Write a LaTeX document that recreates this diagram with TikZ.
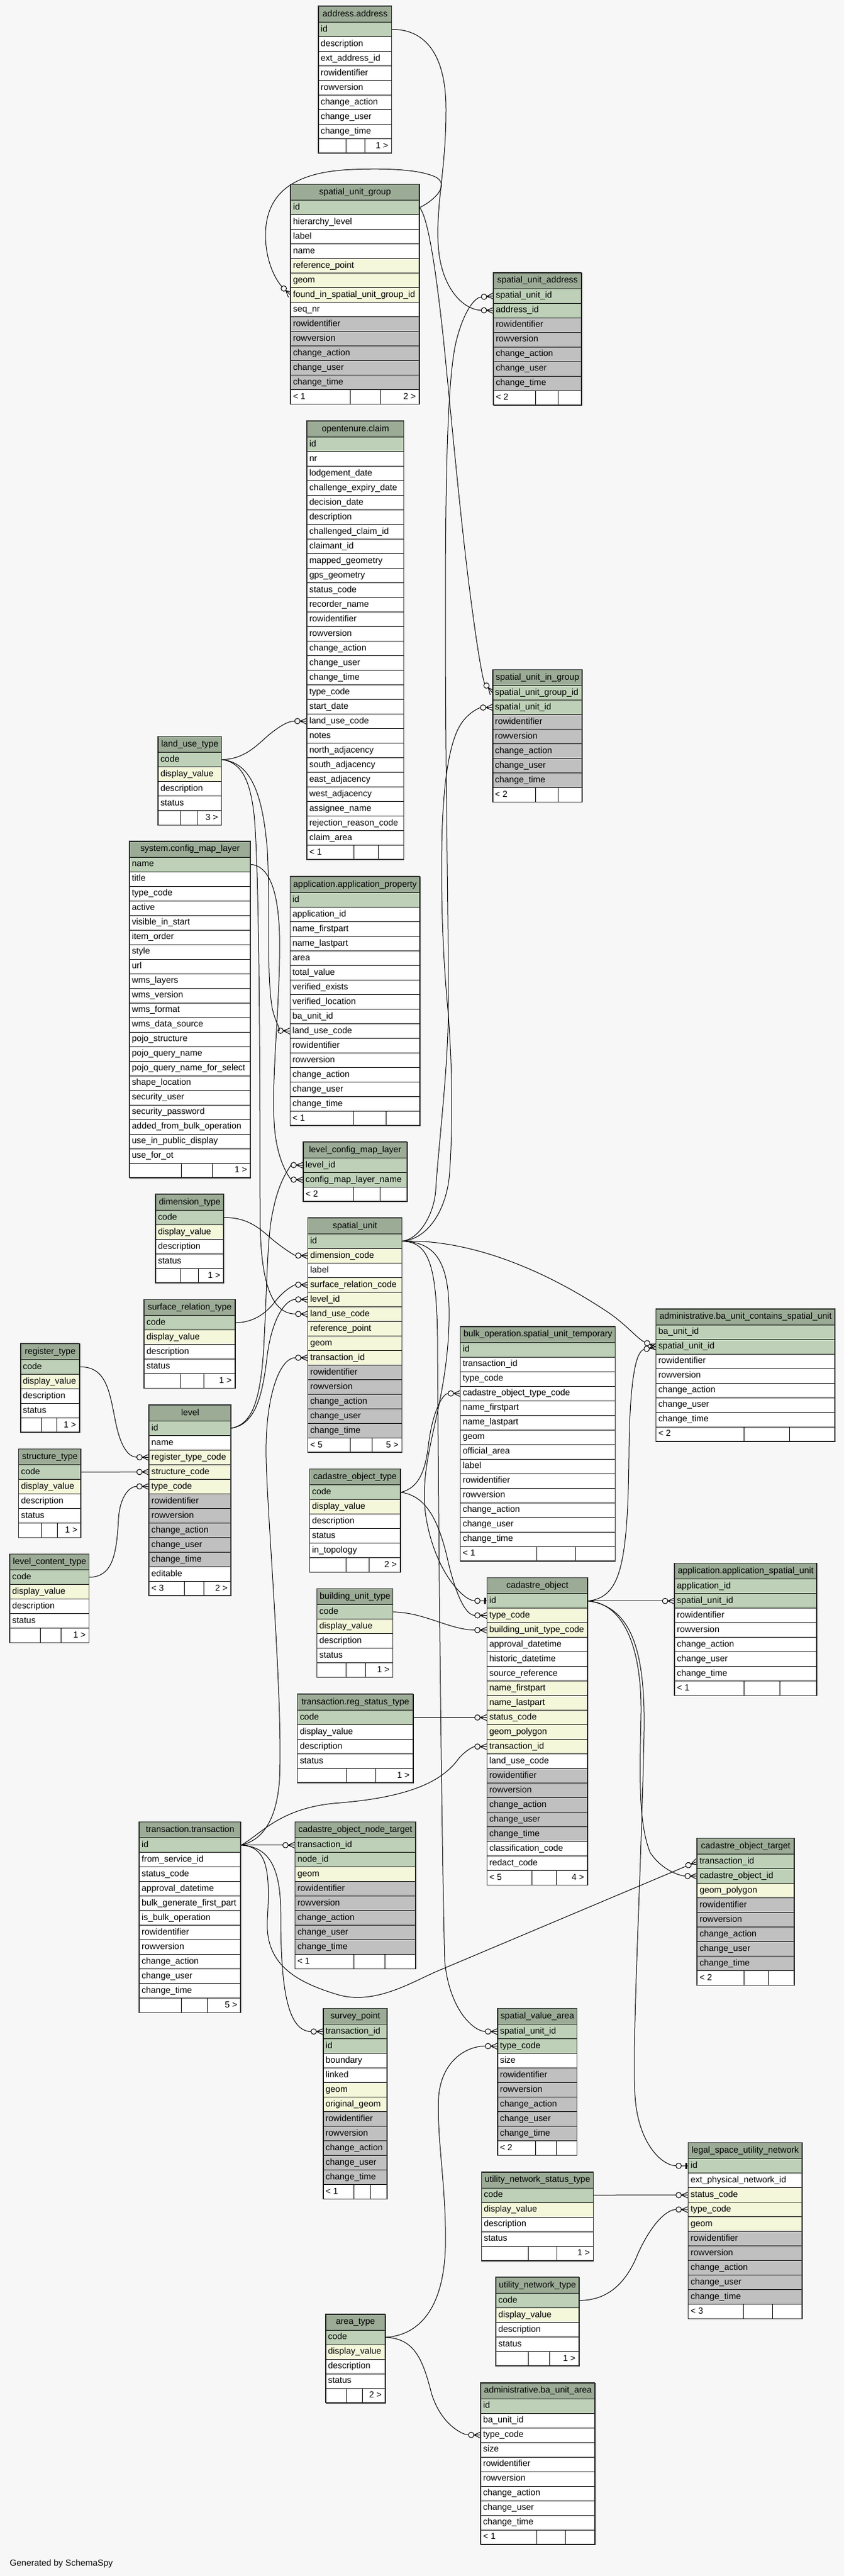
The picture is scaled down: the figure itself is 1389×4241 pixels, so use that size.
\documentclass[tikz,border=0pt]{standalone}
\usepackage{fontspec}
\setmainfont{Liberation Sans}
\usetikzlibrary{arrows.meta}
\definecolor{bgc}{HTML}{F7F7F7}
\definecolor{hdrc}{HTML}{9BAB96}
\definecolor{pk}{HTML}{BED1B8}
\definecolor{yl}{HTML}{F4F7DA}
\definecolor{gr}{HTML}{C0C0C0}
\definecolor{wh}{HTML}{FFFFFF}
\pgfdeclarelayer{bg}
\pgfdeclarelayer{edges}
\pgfsetlayers{bg,edges,main}
\pgfdeclarearrow{
  name=CrowO,
  setup code={
    \pgfarrowssettipend{0pt}
    \pgfarrowssetlineend{-20pt}
    \pgfarrowssetbackend{-20pt}
    \pgfarrowshullpoint{0pt}{5pt}
    \pgfarrowshullpoint{0pt}{-5pt}
    \pgfarrowshullpoint{-20pt}{0pt}
  },
  drawing code={
    \pgfsetdash{}{0pt}
    \pgfpathcircle{\pgfqpoint{-15.5pt}{0pt}}{4.5pt}
    \pgfpathmoveto{\pgfqpoint{-11pt}{0pt}}
    \pgfpathlineto{\pgfqpoint{0pt}{0pt}}
    \pgfpathmoveto{\pgfqpoint{-11pt}{0pt}}
    \pgfpathlineto{\pgfqpoint{0pt}{5pt}}
    \pgfpathmoveto{\pgfqpoint{-11pt}{0pt}}
    \pgfpathlineto{\pgfqpoint{0pt}{-5pt}}
    \pgfusepathqstroke
  }
}
\pgfdeclarearrow{
  name=OneO,
  setup code={
    \pgfarrowssettipend{0pt}
    \pgfarrowssetlineend{-20pt}
    \pgfarrowssetbackend{-20pt}
    \pgfarrowshullpoint{0pt}{5pt}
    \pgfarrowshullpoint{0pt}{-5pt}
    \pgfarrowshullpoint{-20pt}{0pt}
  },
  drawing code={
    \pgfsetdash{}{0pt}
    \pgfpathcircle{\pgfqpoint{-15.5pt}{0pt}}{4.5pt}
    \pgfpathmoveto{\pgfqpoint{-11pt}{0pt}}
    \pgfpathlineto{\pgfqpoint{0pt}{0pt}}
    \pgfusepathqstroke
    \pgfpathrectangle{\pgfqpoint{-4.5pt}{-5pt}}{\pgfqpoint{3pt}{10pt}}
    \pgfusepathqfill
  }
}
\newcommand\tabfont{\fontsize{14.5}{17}\selectfont}
\tikzset{
  hdr/.style={draw=black, fill=hdrc, line width=0.8bp, minimum height=26bp, inner sep=0pt},
  cell/.style={draw=black, line width=0.8bp, minimum height=24bp, inner sep=0pt},
  txt/.style={inner xsep=4bp, inner ysep=0pt, font=\tabfont, text height=10.5bp, text depth=3bp},
  outer/.style={draw=black!80, line width=1.3bp},
  fk/.style={draw=black, line width=1bp, -{CrowO}},
  one/.style={draw=black, line width=1bp, -{OneO}}
}
\def\tblfootparse#1#2/#3\relax{%
  \node[txt, anchor=west] at (#1-f.west) {#2};
  \node[txt, anchor=east, inner xsep=6bp] at (#1-f.east) {#3};}
\newcommand\tbl[9]{%
  \node[hdr, minimum width=#4bp, anchor=north west] (#1) at (#2,#3) {};
  \node[txt, inner xsep=0pt] at (#1.center) {#5};
  \foreach \rc/\rt [count=\ri] in {#6}{%
    \pgfmathsetmacro\yy{#3+26+(\ri-1)*24}%
    \node[cell, fill=\rc, minimum width=#4bp, anchor=north west] (#1-\ri) at (#2,\yy) {};
    \node[txt, anchor=west] at (#1-\ri.west) {\rt};
    \xdef\tblN{\ri}%
  }%
  \pgfmathsetmacro\yf{#3+26+\tblN*24}%
  \node[cell, fill=white, minimum width=#4bp, anchor=north west] (#1-f) at (#2,\yf) {};
  \draw[cell] (#7,\yf) -- ++(0,24) (#8,\yf) -- ++(0,24);
  \tblfootparse{#1}#9\relax
  \pgfmathsetmacro\xr{#2+#4}%
  \pgfmathsetmacro\yb{\yf+24}%
  \draw[outer] (#2,#3) rectangle (\xr,\yb);
}
\begin{document}
\catcode`\_=12
\begin{tikzpicture}[x=1bp,y=-1bp]
\begin{pgfonlayer}{bg}
\fill[bgc] (0,0) rectangle (1389,4241);
\end{pgfonlayer}
\useasboundingbox (0,0) rectangle (1389,4241);

\tbl{addr}{523.7}{10}{120.5}{address.address}{pk/id,wh/description,wh/ext_address_id,wh/rowidentifier,wh/rowversion,wh/change_action,wh/change_user,wh/change_time}{569.2}{600}{/1 >}

\tbl{sug}{478.1}{303.4}{211.6}{spatial_unit_group}{pk/id,wh/hierarchy_level,wh/label,wh/name,yl/reference_point,yl/geom,yl/found_in_spatial_unit_group_id,wh/seq_nr,gr/rowidentifier,gr/rowversion,gr/change_action,gr/change_user,gr/change_time}{575.9}{626.8}{< 1/2 >}

\tbl{sua}{811.9}{448.8}{144.6}{spatial_unit_address}{pk/spatial_unit_id,pk/address_id,gr/rowidentifier,gr/rowversion,gr/change_action,gr/change_user,gr/change_time}{881.1}{918.6}{< 2/}

\tbl{claim}{504.9}{693}{159.4}{opentenure.claim}{pk/id,wh/nr,wh/lodgement_date,wh/challenge_expiry_date,wh/decision_date,wh/description,wh/challenged_claim_id,wh/claimant_id,wh/mapped_geometry,wh/gps_geometry,wh/status_code,wh/recorder_name,wh/rowidentifier,wh/rowversion,wh/change_action,wh/change_user,wh/change_time,wh/type_code,wh/start_date,wh/land_use_code,wh/notes,wh/north_adjacency,wh/south_adjacency,wh/east_adjacency,wh/west_adjacency,wh/assignee_name,wh/rejection_reason_code,wh/claim_area}{582.6}{622.3}{< 1/}

\tbl{lut}{259.8}{1212.2}{104.5}{land_use_type}{pk/code,yl/display_value,wh/description,wh/status}{296.9}{324.1}{/3 >}

\tbl{suig}{810.5}{1102.2}{147.4}{spatial_unit_in_group}{pk/spatial_unit_group_id,pk/spatial_unit_id,gr/rowidentifier,gr/rowversion,gr/change_action,gr/change_user,gr/change_time}{881.1}{918.6}{< 2/}

\tbl{cml}{213}{1384.8}{199}{system.config_map_layer}{pk/name,wh/title,wh/type_code,wh/active,wh/visible_in_start,wh/item_order,wh/style,wh/url,wh/wms_layers,wh/wms_version,wh/wms_format,wh/wms_data_source,wh/pojo_structure,wh/pojo_query_name,wh/pojo_query_name_for_select,wh/shape_location,wh/security_user,wh/security_password,wh/added_from_bulk_operation,wh/use_in_public_display,wh/use_for_ot}{298.7}{349.1}{/1 >}

\tbl{ap}{477.2}{1443}{213.4}{application.application_property}{pk/id,wh/application_id,wh/name_firstpart,wh/name_lastpart,wh/area,wh/total_value,wh/verified_exists,wh/verified_location,wh/ba_unit_id,wh/land_use_code,wh/rowidentifier,wh/rowversion,wh/change_action,wh/change_user,wh/change_time}{581.3}{635.7}{< 1/}

\tbl{lcml}{498.7}{1880}{170.9}{level_config_map_layer}{pk/level_id,pk/config_map_layer_name}{581.3}{625.4}{< 2/}

\tbl{dim}{255.8}{1966.1}{112.1}{dimension_type}{pk/code,yl/display_value,wh/description,wh/status}{296.9}{326.8}{/1 >}

\tbl{su}{506.3}{2005}{154.9}{spatial_unit}{pk/id,yl/dimension_code,wh/label,yl/surface_relation_code,yl/level_id,yl/land_use_code,yl/reference_point,yl/geom,yl/transaction_id,gr/rowidentifier,gr/rowversion,gr/change_action,gr/change_user,gr/change_time}{575.9}{612}{< 5/5 >}

\tbl{srt}{237}{2139.4}{149.6}{surface_relation_type}{pk/code,yl/display_value,wh/description,wh/status}{296.9}{335.7}{/1 >}

\tbl{rt}{33.5}{2211.9}{97.3}{register_type}{pk/code,yl/display_value,wh/description,wh/status}{67.9}{93.3}{/1 >}

\tbl{lvl}{245}{2312.9}{135}{level}{pk/id,wh/name,yl/register_type_code,yl/structure_code,yl/type_code,gr/rowidentifier,gr/rowversion,gr/change_action,gr/change_user,gr/change_time,wh/editable}{303.6}{335.7}{< 3/2 >}

\tbl{st}{30.4}{2385.3}{102.6}{structure_type}{pk/code,yl/display_value,wh/description,wh/status}{67.9}{94.6}{/1 >}

\tbl{lct}{16}{2558.3}{130.4}{level_content_type}{pk/code,yl/display_value,wh/description,wh/status}{66.5}{100}{/1 >}

\tbl{cot}{509.4}{2418.4}{149.1}{cadastre_object_type}{pk/code,yl/display_value,wh/description,wh/status,wh/in_topology}{569.2}{607.6}{/2 >}

\tbl{but}{521.4}{2615.4}{125}{building_unit_type}{pk/code,yl/display_value,wh/description,wh/status}{569.2}{601.3}{/1 >}

\tbl{rst}{489.3}{2788.9}{190.2}{transaction.reg_status_type}{pk/code,wh/display_value,wh/description,wh/status}{570.5}{618.8}{/1 >}

\tbl{bulk}{757.4}{2183.8}{254.9}{bulk_operation.spatial_unit_temporary}{pk/id,wh/transaction_id,wh/type_code,wh/cadastre_object_type_code,wh/name_firstpart,wh/name_lastpart,wh/geom,wh/official_area,wh/label,wh/rowidentifier,wh/rowversion,wh/change_action,wh/change_user,wh/change_time}{882.9}{947.1}{< 1/}

\tbl{bacsu}{1079.3}{2154.8}{294.6}{administrative.ba_unit_contains_spatial_unit}{pk/ba_unit_id,pk/spatial_unit_id,wh/rowidentifier,wh/rowversion,wh/change_action,wh/change_user,wh/change_time}{1224.4}{1299.4}{< 2/}

\tbl{co}{801.2}{2597.3}{165.6}{cadastre_object}{pk/id,yl/type_code,yl/building_unit_type_code,wh/approval_datetime,wh/historic_datetime,wh/source_reference,yl/name_firstpart,yl/name_lastpart,yl/status_code,yl/geom_polygon,yl/transaction_id,wh/land_use_code,gr/rowidentifier,gr/rowversion,gr/change_action,gr/change_user,gr/change_time,wh/classification_code,wh/redact_code}{875.7}{915}{< 5/4 >}

\tbl{asu}{1110}{2573.3}{233.6}{application.application_spatial_unit}{pk/application_id,pk/spatial_unit_id,wh/rowidentifier,wh/rowversion,wh/change_action,wh/change_user,wh/change_time}{1224.4}{1283.3}{< 1/}

\tbl{tr}{229}{2999.3}{167}{transaction.transaction}{pk/id,wh/from_service_id,wh/status_code,wh/approval_datetime,wh/bulk_generate_first_part,wh/is_bulk_operation,wh/rowidentifier,wh/rowversion,wh/change_action,wh/change_user,wh/change_time}{298.7}{341.1}{/5 >}

\tbl{cont}{485.3}{2999.3}{198.2}{cadastre_object_node_target}{pk/transaction_id,pk/node_id,yl/geom,gr/rowidentifier,gr/rowversion,gr/change_action,gr/change_user,gr/change_time}{582.6}{633}{< 1/}

\tbl{sp}{531.7}{3306.3}{105.3}{survey_point}{pk/transaction_id,pk/id,wh/boundary,wh/linked,yl/geom,yl/original_geom,gr/rowidentifier,gr/rowversion,gr/change_action,gr/change_user,gr/change_time}{582.6}{608.9}{< 1/}

\tbl{cotg}{1147.1}{3026.4}{159.4}{cadastre_object_target}{pk/transaction_id,pk/cadastre_object_id,yl/geom_polygon,gr/rowidentifier,gr/rowversion,gr/change_action,gr/change_user,gr/change_time}{1224.4}{1264.6}{< 2/}

\tbl{sva}{818.6}{3306.3}{130.8}{spatial_value_area}{pk/spatial_unit_id,pk/type_code,wh/size,gr/rowidentifier,gr/rowversion,gr/change_action,gr/change_user,gr/change_time}{881.1}{915}{< 2/}

\tbl{at}{535.7}{3809.5}{97.8}{area_type}{pk/code,yl/display_value,wh/description,wh/status}{570.5}{596}{/2 >}

\tbl{unst}{792.2}{3575.6}{184}{utility_network_status_type}{pk/code,yl/display_value,wh/description,wh/status}{869}{916.3}{/1 >}

\tbl{unt}{815.9}{3749}{136.6}{utility_network_type}{pk/code,yl/display_value,wh/description,wh/status}{869}{904.3}{/1 >}

\tbl{bua}{790.9}{3922.5}{187.9}{administrative.ba_unit_area}{pk/id,wh/ba_unit_id,wh/type_code,wh/size,wh/rowidentifier,wh/rowversion,wh/change_action,wh/change_user,wh/change_time}{882.9}{930.6}{< 1/}

\tbl{lsun}{1132.4}{3527.4}{187.1}{legal_space_utility_network}{pk/id,wh/ext_physical_network_id,yl/status_code,yl/type_code,yl/geom,gr/rowidentifier,gr/rowversion,gr/change_action,gr/change_user,gr/change_time}{1223}{1271.3}{< 3/}

\node[txt, anchor=west, inner xsep=0pt] (gen) at (16,4221) {Generated by SchemaSpy};

\begin{pgfonlayer}{edges}
% address -> spatial_unit_address
\draw[fk] (addr-1.east) .. controls (700,48) and (734,90) .. (734,180) .. controls (734,280) and (718,330) .. (721,400) .. controls (724,470) and (760,510) .. (sua-2.west);
% spatial_unit_group self
\draw[fk] (sug-1.east) .. controls (715,330) and (740,305) .. (718,292) .. controls (690,278) and (630,277) .. (580,279) .. controls (480,283) and (436,320) .. (437,390) .. controls (438,440) and (460,468) .. (sug-7.west);
% spatial_unit_group -> spatial_unit_in_group
\draw[fk] (sug-1.east) .. controls (705,358) and (718,450) .. (730,560) .. controls (742,680) and (760,880) .. (778,1010) .. controls (786,1070) and (795,1122) .. (suig-1.west);
% spatial_unit -> spatial_unit_address
\draw[fk] (su-1.east) .. controls (690,2040) and (714,2000) .. (717,1960) .. controls (722,1880) and (738,1760) .. (738,1650) .. controls (738,1500) and (733,1300) .. (733,1000) .. controls (733,750) and (738,620) .. (750,565) .. controls (762,515) and (780,490) .. (sua-1.west);
% spatial_unit -> spatial_unit_in_group
\draw[fk] (su-1.east) .. controls (705,2040) and (736,1990) .. (740,1930) .. controls (746,1840) and (744,1740) .. (736,1650) .. controls (728,1560) and (726,1470) .. (727,1400) .. controls (728,1300) and (738,1220) .. (760,1190) .. controls (772,1172) and (790,1165) .. (suig-2.west);
% land_use_type
\draw[fk] (lut-1.east) .. controls (400,1250) and (420,1230) .. (440,1212) .. controls (460,1195) and (475,1187) .. (claim-20.west);
\draw[fk] (lut-1.east) .. controls (400,1255) and (412,1290) .. (418,1340) .. controls (426,1420) and (428,1700) .. (428,2000) .. controls (428,2120) and (450,2163) .. (su-6.west);
\draw[fk] (lut-1.east) .. controls (410,1255) and (432,1300) .. (440,1400) .. controls (445,1500) and (438,1600) .. (448,1660) .. controls (455,1690) and (465,1697) .. (ap-10.west);
% config_map_layer -> level_config_map_layer
\draw[fk] (cml-1.east) .. controls (440,1425) and (458,1460) .. (460,1540) .. controls (462,1650) and (445,1780) .. (452,1860) .. controls (458,1920) and (480,1942) .. (lcml-2.west);
% level
\draw[fk] (lvl-1.east) .. controls (410,2345) and (430,2320) .. (435,2200) .. controls (440,2100) and (440,2030) .. (450,1990) .. controls (460,1940) and (480,1918) .. (lcml-1.west);
\draw[fk] (lvl-1.east) .. controls (420,2345) and (432,2300) .. (440,2230) .. controls (448,2170) and (470,2139) .. (su-5.west);
% dimension, surface relation
\draw[fk] (dim-1.east) .. controls (410,2004) and (430,2025) .. (450,2042) .. controls (470,2058) and (485,2067) .. (su-2.west);
\draw[fk] (srt-1.east) .. controls (420,2177) and (440,2160) .. (455,2140) .. controls (470,2122) and (485,2115) .. (su-4.west);
% transaction -> spatial_unit
\draw[fk] (tr-1.east) .. controls (430,3030) and (455,3000) .. (460,2930) .. controls (466,2800) and (440,2500) .. (438,2400) .. controls (436,2300) and (460,2235) .. (su-9.west);
% level parents
\draw[fk] (rt-1.east) .. controls (175,2250) and (180,2290) .. (190,2340) .. controls (200,2390) and (215,2398.9) .. (lvl-3.west);
\draw[fk] (st-1.east) -- (lvl-4.west);
\draw[fk] (lct-1.east) .. controls (185,2596) and (192,2560) .. (195,2500) .. controls (198,2460) and (215,2446.9) .. (lvl-5.west);
% spatial_unit -> cadastre_object (one to one)
\draw[one] (su-1.east) .. controls (720,2045) and (745,2080) .. (738,2200) .. controls (730,2330) and (690,2400) .. (700,2490) .. controls (712,2580) and (760,2635) .. (co-1.west);
% cadastre_object_type
\draw[fk] (cot-1.east) .. controls (690,2450) and (700,2420) .. (705,2380) .. controls (712,2320) and (730,2293.8) .. (bulk-4.west);
\draw[fk] (cot-1.east) .. controls (700,2462) and (720,2500) .. (735,2560) .. controls (748,2620) and (765,2659.3) .. (co-2.west);
% building_unit_type
\draw[fk] (but-1.east) .. controls (700,2655) and (740,2683.3) .. (co-3.west);
% reg status
\draw[fk] (rst-1.east) -- (co-9.west);
% transaction children
\draw[fk] (tr-1.east) .. controls (430,3020) and (460,2975) .. (560,2968) .. controls (680,2958) and (730,2930) .. (755,2895) .. controls (768,2880) and (780,2875.3) .. (co-11.west);
\draw[fk] (tr-1.east) -- (cont-1.west);
\draw[fk] (tr-1.east) .. controls (440,3040) and (462,3070) .. (462,3150) .. controls (462,3260) and (470,3344.3) .. (sp-1.west);
\draw[fk] (tr-1.east) .. controls (440,3040) and (445,3080) .. (440,3160) .. controls (436,3230) and (480,3262) .. (560,3285) .. controls (620,3300) and (680,3262) .. (720,3245) -- (cotg-1.west);
% spatial_unit -> spatial_value_area
\draw[fk] (su-1.east) .. controls (705,2045) and (718,2080) .. (720,2200) .. controls (722,2600) and (728,3100) .. (732,3230) .. controls (740,3310) and (780,3344.3) .. (sva-1.west);
% spatial_unit -> ba_unit_contains_spatial_unit
\draw[fk] (su-1.east) .. controls (760,2040) and (880,2080) .. (1000,2160) .. controls (1030,2180) and (1050,2205) .. (bacsu-2.west);
% cadastre_object children
\draw[fk] (co-1.east) .. controls (1020,2630) and (1033,2580) .. (1035,2400) .. controls (1036,2280) and (1045,2225) .. (bacsu-2.west);
\draw[fk] (co-1.east) -- (asu-2.west);
\draw[fk] (co-1.east) .. controls (1030,2640) and (1056,2720) .. (1055,2820) .. controls (1053,2920) and (1050,3000) .. (1070,3050) .. controls (1090,3080) and (1120,3088.4) .. (cotg-2.west);
\draw[one] (co-1.east) .. controls (1040,2645) and (1062,2720) .. (1060,2850) .. controls (1055,3100) and (1040,3350) .. (1045,3450) .. controls (1050,3530) and (1090,3565.4) .. (lsun-1.west);
% area_type
\draw[fk] (at-1.east) .. controls (690,3845) and (730,3800) .. (733,3700) .. controls (735,3600) and (718,3520) .. (722,3450) .. controls (728,3390) and (770,3368.3) .. (sva-2.west);
\draw[fk] (at-1.east) .. controls (680,3850) and (695,3880) .. (710,3940) .. controls (725,3990) and (760,4008.5) .. (bua-3.west);
% utility network
\draw[fk] (unst-1.east) -- (lsun-3.west);
\draw[fk] (unt-1.east) .. controls (1000,3787) and (1030,3760) .. (1050,3710) .. controls (1075,3655) and (1100,3637.4) .. (lsun-4.west);
\end{pgfonlayer}
\end{tikzpicture}
\end{document}
